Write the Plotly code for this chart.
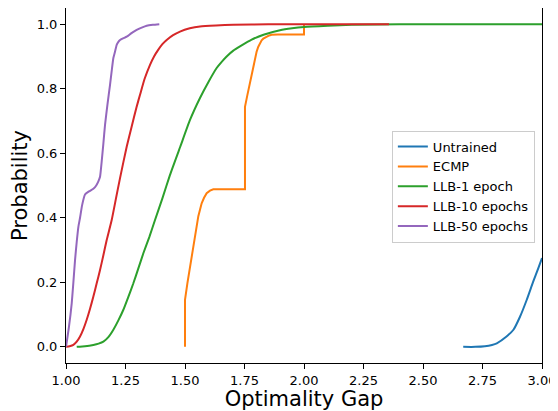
import plotly.graph_objects as go

# ---- data (Optimality Gap, cumulative probability) ----
untrained_x = [2.669, 2.72, 2.76, 2.79, 2.81, 2.851, 2.88, 2.908, 2.936, 2.963, 2.985, 3.0]
untrained_y = [0.0, 0.0, 0.002, 0.006, 0.011, 0.032, 0.053, 0.094, 0.146, 0.202, 0.245, 0.275]

ecmp_x = [1.500, 1.500, 1.510, 1.521, 1.531, 1.542, 1.549, 1.556, 1.563, 1.570, 1.580, 1.591,
          1.605, 1.619, 1.752, 1.752, 1.762, 1.770, 1.779, 1.787, 1.794, 1.801, 1.808, 1.815,
          1.822, 1.829, 1.837, 1.845, 1.854, 1.864, 1.876, 1.890, 2.000, 2.000]
ecmp_y = [0.0, 0.146, 0.197, 0.249, 0.30, 0.352, 0.380, 0.405, 0.425, 0.445, 0.462, 0.476,
          0.484, 0.488, 0.488, 0.744, 0.78, 0.81, 0.84, 0.868, 0.895, 0.915, 0.93, 0.942,
          0.95, 0.955, 0.959, 0.963, 0.965, 0.967, 0.968, 0.968, 0.968, 1.0]

llb1_x = [1.045, 1.080, 1.115, 1.137, 1.157, 1.178, 1.199, 1.220, 1.241, 1.262, 1.283, 1.304,
          1.325, 1.350, 1.374, 1.405, 1.437, 1.480, 1.521, 1.563, 1.598, 1.633, 1.655, 1.675,
          1.703, 1.731, 1.780, 1.830, 1.899, 1.950, 2.000, 2.100, 2.200, 2.400, 3.000]
llb1_y = [0.0, 0.002, 0.006, 0.010, 0.016, 0.030, 0.053, 0.082, 0.115, 0.155, 0.197, 0.243,
          0.29, 0.34, 0.393, 0.46, 0.533, 0.62, 0.703, 0.771, 0.820, 0.864, 0.884, 0.900,
          0.918, 0.931, 0.952, 0.967, 0.981, 0.987, 0.991, 0.995, 0.998, 1.0, 1.0]

llb10_x = [1.000, 1.015, 1.031, 1.045, 1.059, 1.073, 1.087, 1.101, 1.115, 1.129, 1.143, 1.157,
           1.171, 1.192, 1.210, 1.227, 1.255, 1.276, 1.296, 1.311, 1.330, 1.353, 1.370, 1.388,
           1.405, 1.423, 1.450, 1.479, 1.520, 1.563, 1.630, 1.703, 1.850, 2.357]
llb10_y = [0.0, 0.002, 0.006, 0.016, 0.032, 0.055, 0.084, 0.118, 0.156, 0.197, 0.238, 0.284,
           0.331, 0.393, 0.46, 0.523, 0.62, 0.683, 0.742, 0.781, 0.830, 0.874, 0.900, 0.921,
           0.938, 0.951, 0.966, 0.977, 0.987, 0.993, 0.996, 0.998, 0.9995, 1.0]

llb50_x = [1.000, 1.012, 1.024, 1.031, 1.038, 1.045, 1.052, 1.059, 1.068, 1.080, 1.097, 1.115,
           1.127, 1.136, 1.143, 1.150, 1.157, 1.164, 1.174, 1.185, 1.192, 1.199, 1.206, 1.213,
           1.220, 1.227, 1.240, 1.255, 1.275, 1.297, 1.318, 1.339, 1.365, 1.392]
llb50_y = [0.0, 0.06, 0.135, 0.20, 0.269, 0.325, 0.372, 0.40, 0.44, 0.472, 0.482, 0.490,
           0.500, 0.513, 0.527, 0.575, 0.63, 0.688, 0.75, 0.812, 0.855, 0.895, 0.915, 0.936,
           0.945, 0.951, 0.956, 0.961, 0.972, 0.982, 0.989, 0.995, 0.998, 1.0]

series_names = ["Untrained", "ECMP", "LLB-1 epoch", "LLB-10 epochs", "LLB-50 epochs"]
series_x = [untrained_x, ecmp_x, llb1_x, llb10_x, llb50_x]
series_y = [untrained_y, ecmp_y, llb1_y, llb10_y, llb50_y]
colors = ["#1f77b4", "#ff7f0e", "#2ca02c", "#d62728", "#9467bd"]
shapes_ = ["spline", "linear", "spline", "spline", "spline"]

x_ticks = [1.00, 1.25, 1.50, 1.75, 2.00, 2.25, 2.50, 2.75, 3.00]
y_ticks = [0.0, 0.2, 0.4, 0.6, 0.8, 1.0]

fig = go.Figure()
for name, xs, ys, c, sh in zip(series_names, series_x, series_y, colors, shapes_):
    line = dict(color=c, width=2, shape=sh)
    if sh == "spline":
        line["smoothing"] = 0.5
    fig.add_trace(go.Scatter(x=xs, y=ys, mode="lines", name=name, line=line))

axis_common = dict(showline=True, linecolor="black", linewidth=1, mirror=True,
                   ticks="outside", ticklen=5, tickwidth=1, tickcolor="black",
                   showgrid=False, zeroline=False, automargin=False,
                   tickfont=dict(size=13, color="black"))

fig.update_xaxes(range=[1.0, 3.0], tickvals=x_ticks,
                 ticktext=[f"{v:.2f}" for v in x_ticks],
                 title=dict(text="Optimality Gap", font=dict(size=21, color="black"), standoff=4),
                 **axis_common)
fig.update_yaxes(range=[-0.05, 1.05], tickvals=y_ticks,
                 ticktext=[f"{v:.1f}" for v in y_ticks],
                 title=dict(text="Probability", font=dict(size=21, color="black"), standoff=5),
                 **axis_common)

# the page body adds an 8px offset, so the figure is 8px smaller and margins shifted
fig.update_layout(
    width=550, height=403,
    margin=dict(l=58, r=16, t=0, b=48, pad=0),
    paper_bgcolor="white", plot_bgcolor="white",
    font=dict(family="DejaVu Sans", color="black"),
    showlegend=True,
    legend=dict(x=0.985, xanchor="right", y=0.497, yanchor="middle",
                bgcolor="rgba(255,255,255,0.8)", bordercolor="#cccccc", borderwidth=1,
                font=dict(size=13, color="black"), tracegroupgap=0, itemwidth=30),
)

fig.write_html("out.html")
